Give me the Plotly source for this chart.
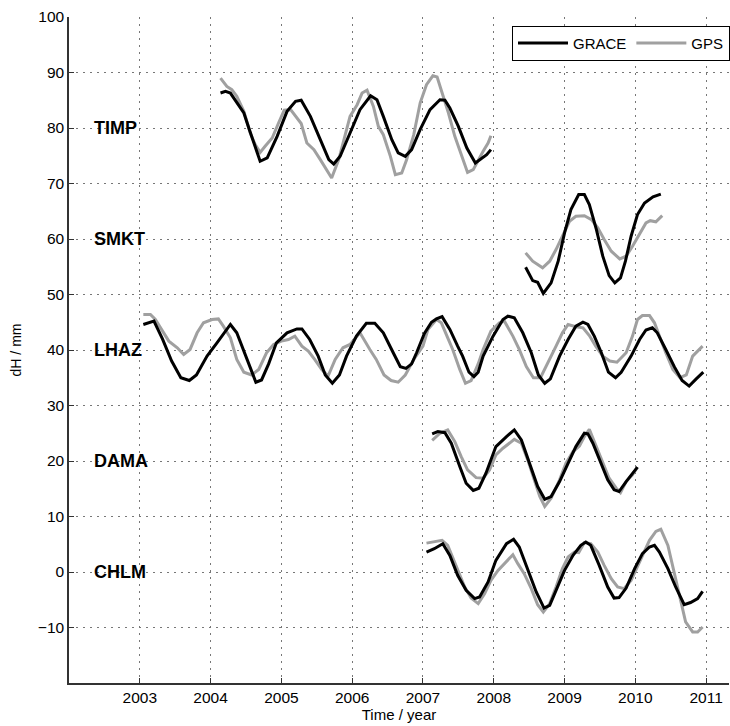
import plotly.graph_objects as go

# ---------------- data ----------------
TIMP_GRACE_T = [2004.14, 2004.21, 2004.28, 2004.37, 2004.47, 2004.54, 2004.61, 2004.70, 2004.80, 2004.87,
                2004.94, 2005.08, 2005.20, 2005.28, 2005.41, 2005.55, 2005.67, 2005.74, 2005.83, 2005.97,
                2006.11, 2006.26, 2006.35, 2006.44, 2006.56, 2006.65, 2006.75, 2006.84, 2006.96, 2007.10,
                2007.24, 2007.31, 2007.38, 2007.50, 2007.62, 2007.74, 2007.83, 2007.90, 2007.96]
TIMP_GRACE_V = [86.3, 86.6, 86.3, 84.5, 82.7, 80.0, 77.3, 74.0, 74.6, 76.5,
                78.5, 83.0, 84.8, 85.0, 82.1, 77.9, 74.3, 73.5, 74.9, 79.1,
                83.3, 85.8, 85.1, 82.1, 77.9, 75.5, 74.9, 76.1, 79.7, 83.3,
                85.1, 85.0, 83.6, 80.3, 76.4, 73.7, 74.6, 75.2, 76.1]
TIMP_GPS_T = [2004.14, 2004.23, 2004.30, 2004.37, 2004.47, 2004.56, 2004.63, 2004.70, 2004.77, 2004.87,
              2004.96, 2005.04, 2005.13, 2005.20, 2005.28, 2005.36, 2005.46, 2005.55, 2005.64, 2005.71,
              2005.81, 2005.90, 2005.97, 2006.07, 2006.14, 2006.21, 2006.30, 2006.37, 2006.44, 2006.54,
              2006.61, 2006.70, 2006.77, 2006.87, 2006.96, 2007.05, 2007.14, 2007.20, 2007.27, 2007.36,
              2007.45, 2007.55, 2007.63, 2007.71, 2007.78, 2007.85, 2007.92, 2007.96]
TIMP_GPS_V = [89.0, 87.5, 86.9, 85.7, 83.0, 79.1, 77.0, 75.6, 76.7, 78.2,
              80.9, 83.2, 83.3, 82.1, 80.8, 77.3, 76.1, 74.3, 72.5, 71.0,
              74.3, 78.5, 82.1, 84.2, 86.3, 86.8, 83.9, 80.3, 78.8, 74.9,
              71.6, 71.9, 74.3, 78.8, 84.5, 87.8, 89.4, 89.2, 86.3, 82.7,
              78.5, 74.9, 72.0, 72.5, 74.3, 75.8, 77.3, 78.6]

SMKT_GRACE_T = [2008.45, 2008.51, 2008.55, 2008.62, 2008.70, 2008.81, 2008.91, 2009.00, 2009.09, 2009.20,
                2009.28, 2009.35, 2009.45, 2009.54, 2009.63, 2009.71, 2009.79, 2009.86, 2009.94, 2010.03,
                2010.13, 2010.25, 2010.36]
SMKT_GRACE_V = [54.9, 53.3, 52.5, 52.2, 50.2, 52.1, 56.0, 61.1, 65.3, 68.0,
                68.0, 66.2, 61.7, 56.9, 53.4, 52.1, 53.0, 56.0, 60.5, 64.4,
                66.5, 67.6, 68.1]
SMKT_GPS_T = [2008.45, 2008.55, 2008.69, 2008.79, 2008.88, 2008.98, 2009.07, 2009.16, 2009.28, 2009.38,
              2009.47, 2009.56, 2009.66, 2009.78, 2009.87, 2009.96, 2010.06, 2010.15, 2010.21, 2010.29,
              2010.38]
SMKT_GPS_V = [57.5, 56.0, 54.8, 56.0, 58.1, 60.8, 63.2, 64.1, 64.2, 63.5,
              62.0, 59.9, 57.8, 56.4, 56.9, 58.7, 60.8, 62.9, 63.3, 63.1,
              64.2]

LHAZ_GRACE_T = [2003.05, 2003.20, 2003.32, 2003.45, 2003.58, 2003.70, 2003.80, 2003.95, 2004.09, 2004.21,
                2004.28, 2004.37, 2004.46, 2004.56, 2004.64, 2004.72, 2004.82, 2004.93, 2005.08, 2005.22,
                2005.29, 2005.40, 2005.52, 2005.62, 2005.72, 2005.82, 2005.92, 2006.06, 2006.20, 2006.32,
                2006.44, 2006.58, 2006.68, 2006.76, 2006.84, 2006.91, 2007.02, 2007.12, 2007.19, 2007.27,
                2007.38, 2007.49, 2007.56, 2007.65, 2007.72, 2007.78, 2007.85, 2007.99, 2008.13, 2008.20,
                2008.29, 2008.41, 2008.53, 2008.63, 2008.72, 2008.80, 2008.93, 2009.05, 2009.16, 2009.26,
                2009.33, 2009.42, 2009.52, 2009.62, 2009.72, 2009.80, 2009.94, 2010.06, 2010.15, 2010.24,
                2010.31, 2010.43, 2010.55, 2010.66, 2010.76, 2010.86, 2010.96]
LHAZ_GRACE_V = [44.6, 45.2, 42.0, 38.0, 35.0, 34.5, 35.5, 38.9, 41.3, 43.4,
                44.6, 43.1, 40.1, 37.0, 34.2, 34.6, 37.5, 41.3, 43.1, 43.8,
                43.8, 41.9, 38.9, 35.5, 34.0, 35.5, 38.9, 42.5, 44.8, 44.8,
                43.1, 39.5, 37.0, 36.7, 37.5, 39.5, 43.0, 45.0, 45.6, 46.0,
                43.7, 40.7, 38.9, 36.0, 35.2, 36.0, 38.9, 42.5, 45.5, 46.1,
                45.8, 43.1, 39.5, 35.5, 34.0, 34.8, 38.9, 41.9, 44.3, 45.0,
                44.6, 42.5, 39.5, 36.0, 35.0, 36.0, 38.9, 41.9, 43.6, 44.0,
                43.1, 40.1, 37.0, 34.5, 33.5, 34.8, 36.0]
LHAZ_GPS_T = [2003.05, 2003.15, 2003.22, 2003.34, 2003.41, 2003.53, 2003.62, 2003.71, 2003.81, 2003.90,
              2004.02, 2004.11, 2004.18, 2004.28, 2004.37, 2004.47, 2004.58, 2004.68, 2004.79, 2004.89,
              2005.00, 2005.10, 2005.19, 2005.29, 2005.38, 2005.47, 2005.57, 2005.66, 2005.76, 2005.87,
              2005.97, 2006.11, 2006.15, 2006.25, 2006.34, 2006.45, 2006.55, 2006.65, 2006.75, 2006.88,
              2007.00, 2007.07, 2007.19, 2007.26, 2007.35, 2007.42, 2007.52, 2007.60, 2007.68, 2007.78,
              2007.85, 2007.96, 2008.08, 2008.15, 2008.27, 2008.36, 2008.46, 2008.56, 2008.66, 2008.78,
              2008.88, 2008.97, 2009.05, 2009.16, 2009.26, 2009.35, 2009.44, 2009.54, 2009.64, 2009.74,
              2009.87, 2009.96, 2010.03, 2010.10, 2010.20, 2010.27, 2010.34, 2010.43, 2010.53, 2010.63,
              2010.72, 2010.81, 2010.95]
LHAZ_GPS_V = [46.4, 46.4, 45.5, 43.1, 41.6, 40.4, 39.2, 40.1, 43.1, 44.9,
              45.5, 45.6, 44.3, 42.2, 38.3, 36.0, 35.5, 36.5, 39.5, 41.0,
              41.6, 41.9, 42.5, 40.7, 39.8, 38.3, 36.5, 35.3, 38.3, 40.4,
              41.0, 43.1, 42.2, 40.1, 38.3, 35.5, 34.5, 34.2, 35.5, 38.5,
              40.7, 43.7, 45.5, 44.9, 42.2, 40.1, 36.5, 34.0, 34.5, 37.5,
              40.1, 43.4, 44.9, 45.2, 42.5, 40.1, 37.0, 35.0, 35.0, 38.0,
              40.7, 43.1, 44.6, 44.2, 44.0, 42.6, 40.7, 38.9, 38.0, 37.8,
              39.5, 42.5, 45.5, 46.2, 46.2, 44.9, 42.5, 39.5, 36.5, 35.0,
              35.5, 38.9, 40.7]

DAMA_GRACE_T = [2007.13, 2007.21, 2007.31, 2007.40, 2007.52, 2007.61, 2007.71, 2007.79, 2007.89, 2008.03,
                2008.18, 2008.29, 2008.39, 2008.50, 2008.62, 2008.72, 2008.81, 2008.93, 2009.05, 2009.16,
                2009.28, 2009.33, 2009.40, 2009.52, 2009.61, 2009.70, 2009.77, 2009.87, 2010.03]
DAMA_GRACE_V = [24.9, 25.3, 25.1, 23.2, 19.0, 16.0, 14.7, 15.1, 17.8, 22.6,
                24.4, 25.6, 23.8, 19.6, 15.4, 13.1, 13.6, 16.3, 19.6, 22.6,
                25.0, 24.9, 23.2, 19.6, 16.6, 14.8, 14.5, 16.3, 18.9]
DAMA_GPS_T = [2007.13, 2007.24, 2007.35, 2007.45, 2007.54, 2007.63, 2007.75, 2007.85, 2007.94, 2008.03,
              2008.13, 2008.22, 2008.29, 2008.39, 2008.48, 2008.58, 2008.65, 2008.72, 2008.81, 2008.93,
              2009.02, 2009.12, 2009.21, 2009.28, 2009.35, 2009.42, 2009.54, 2009.63, 2009.73, 2009.79,
              2009.87, 2009.96, 2010.03]
DAMA_GPS_V = [23.7, 25.0, 25.6, 23.5, 20.8, 18.4, 17.0, 16.9, 18.4, 21.1,
              22.3, 23.2, 23.9, 23.2, 20.2, 16.3, 13.6, 11.8, 13.3, 16.6,
              19.6, 21.7, 22.7, 24.4, 25.7, 23.5, 19.6, 16.9, 15.1, 14.3,
              16.3, 17.5, 18.9]

CHLM_GRACE_T = [2007.05, 2007.16, 2007.28, 2007.38, 2007.49, 2007.61, 2007.73, 2007.80, 2007.92, 2008.03,
                2008.18, 2008.28, 2008.36, 2008.48, 2008.60, 2008.71, 2008.79, 2008.88, 2009.00, 2009.12,
                2009.23, 2009.30, 2009.37, 2009.49, 2009.61, 2009.70, 2009.77, 2009.87, 2009.99, 2010.10,
                2010.20, 2010.27, 2010.34, 2010.46, 2010.57, 2010.69, 2010.78, 2010.88, 2010.95]
CHLM_GRACE_V = [3.6, 4.2, 5.1, 3.0, -0.6, -3.3, -4.8, -4.5, -1.8, 2.1,
                5.1, 5.9, 4.5, 0.6, -3.6, -6.5, -6.0, -3.3, 0.3, 3.0,
                4.8, 5.4, 4.8, 1.2, -2.7, -4.7, -4.6, -2.9, 0.6, 3.3,
                4.5, 4.8, 3.6, 0.6, -2.7, -5.9, -5.5, -4.8, -3.5]
CHLM_GPS_T = [2007.05, 2007.16, 2007.27, 2007.35, 2007.47, 2007.59, 2007.68, 2007.78, 2007.87, 2007.96,
              2008.06, 2008.15, 2008.27, 2008.34, 2008.43, 2008.53, 2008.62, 2008.70, 2008.79, 2008.88,
              2008.97, 2009.05, 2009.14, 2009.20, 2009.28, 2009.37, 2009.47, 2009.56, 2009.66, 2009.75,
              2009.84, 2009.94, 2010.03, 2010.13, 2010.20, 2010.29, 2010.36, 2010.46, 2010.55, 2010.62,
              2010.71, 2010.81, 2010.88, 2010.95]
CHLM_GPS_V = [5.2, 5.4, 5.7, 4.8, 1.2, -2.7, -4.7, -5.7, -3.9, -1.5,
              0.3, 1.5, 3.1, 1.5, -0.3, -3.0, -5.9, -7.2, -5.7, -2.7,
              0.6, 2.7, 3.6, 3.5, 5.3, 5.1, 3.6, 1.2, -1.2, -2.7,
              -3.0, -1.5, 0.9, 3.6, 5.7, 7.3, 7.7, 4.8, 0.0, -4.2,
              -9.0, -10.8, -10.8, -9.9]

STATIONS = ["TIMP", "SMKT", "LHAZ", "DAMA", "CHLM"]
STATION_LEVELS = [80, 60, 40, 20, 0]
LABEL_X = 2002.33

X_TICKS = [2003, 2004, 2005, 2006, 2007, 2008, 2009, 2010, 2011]
Y_TICKS = [100, 90, 80, 70, 60, 50, 40, 30, 20, 10, 0, -10]

GRACE_COLOR = "#000000"
GPS_COLOR = "#a0a0a0"

series = [
    (TIMP_GRACE_T, TIMP_GRACE_V, TIMP_GPS_T, TIMP_GPS_V),
    (SMKT_GRACE_T, SMKT_GRACE_V, SMKT_GPS_T, SMKT_GPS_V),
    (LHAZ_GRACE_T, LHAZ_GRACE_V, LHAZ_GPS_T, LHAZ_GPS_V),
    (DAMA_GRACE_T, DAMA_GRACE_V, DAMA_GPS_T, DAMA_GPS_V),
    (CHLM_GRACE_T, CHLM_GRACE_V, CHLM_GPS_T, CHLM_GPS_V),
]

fig = go.Figure()
for i, (gt, gv, pt, pv) in enumerate(series):
    fig.add_trace(go.Scatter(x=pt, y=pv, mode="lines", name="GPS",
                             line=dict(color=GPS_COLOR, width=3),
                             showlegend=(i == 0), legendrank=2))
    fig.add_trace(go.Scatter(x=gt, y=gv, mode="lines", name="GRACE",
                             line=dict(color=GRACE_COLOR, width=3),
                             showlegend=(i == 0), legendrank=1))

for name, lvl in zip(STATIONS, STATION_LEVELS):
    fig.add_annotation(x=LABEL_X, y=lvl, text="<b>%s</b>" % name, showarrow=False,
                       xanchor="left", yanchor="middle",
                       font=dict(family="Liberation Sans, Arial", size=18, color="#000"))

W, H = 730, 726
L, T, B = 69, 17, 43
plot_w = W - L
px_per_year = 70.9

fig.update_layout(
    width=W, height=H,
    margin=dict(l=L, r=0, t=T, b=B),
    paper_bgcolor="white", plot_bgcolor="white",
    font=dict(family="Liberation Sans, Arial", size=15.5, color="#000"),
    showlegend=True,
    legend=dict(orientation="h", x=(512.7 - L) / plot_w, xanchor="left",
                y=1 - (25.7 - T) / (H - T - B), yanchor="top",
                bgcolor="white", bordercolor="#000", borderwidth=1,
                font=dict(size=15), itemwidth=50, traceorder="normal"),
)
fig.update_xaxes(range=[2002, 2002 + plot_w / px_per_year], tickvals=X_TICKS,
                 ticktext=[str(v) for v in X_TICKS],
                 showgrid=True, gridcolor="#777", griddash="2px,5px", gridwidth=1,
                 zeroline=False, showline=True, linecolor="#333", linewidth=1.5,
                 ticks="inside", ticklen=5, tickcolor="#333",
                 title=dict(text="Time / year", standoff=4, font=dict(size=15)))
fig.update_yaxes(range=[-20, 100], tickvals=Y_TICKS,
                 showgrid=True, gridcolor="#777", griddash="2px,5px", gridwidth=1,
                 zeroline=False, showline=True, linecolor="#333", linewidth=1.5,
                 ticks="inside", ticklen=5, tickcolor="#333",
                 title=dict(text="dH / mm", standoff=13, font=dict(size=14)))

fig.write_html("out.html")
